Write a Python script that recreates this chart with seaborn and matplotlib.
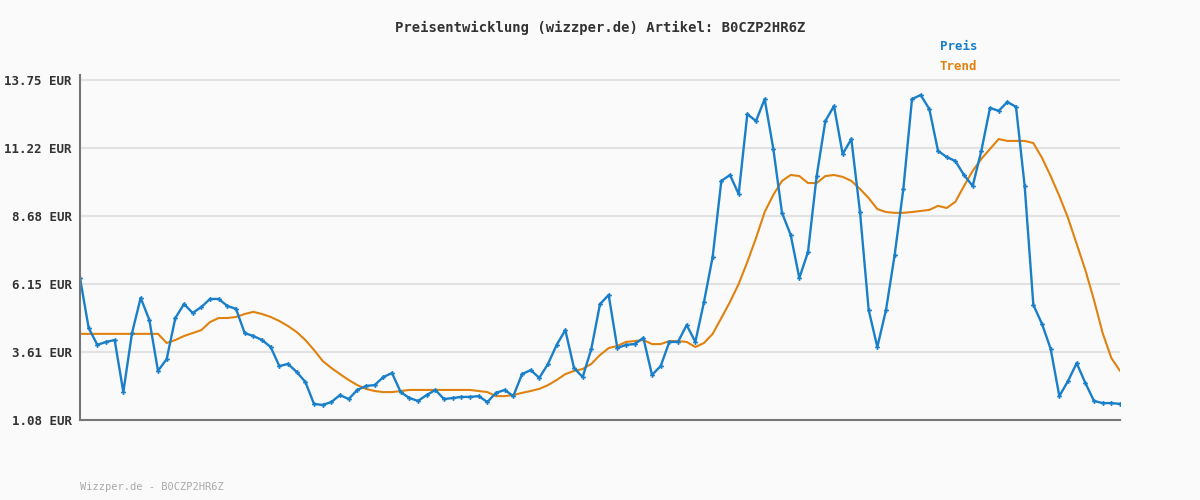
import numpy as np
import pandas as pd
import matplotlib
matplotlib.use("Agg")
import matplotlib.pyplot as plt
import seaborn as sns

preis = [6.37,4.51,3.88,3.99,4.06,2.12,4.32,5.63,4.81,2.91,3.35,4.88,5.40,5.07,5.29,5.59,5.59,5.33,5.22,4.32,
         4.21,4.06,3.80,3.09,3.17,2.87,2.50,1.68,1.64,1.75,2.01,1.86,2.20,2.35,2.38,2.68,2.83,2.12,1.90,1.79,
         2.01,2.20,1.86,1.90,1.94,1.94,1.97,1.75,2.09,2.20,1.97,2.79,2.94,2.65,3.17,3.88,4.43,3.02,2.68,3.73,
         5.40,5.74,3.76,3.88,3.91,4.14,2.76,3.09,3.99,3.99,4.62,3.99,5.48,7.16,9.99,10.21,9.50,12.48,12.22,13.04,
         11.18,8.80,7.98,6.37,7.34,10.17,12.22,12.78,10.99,11.55,8.83,5.18,3.80,5.18,7.23,9.69,13.04,13.19,12.67,11.11,
         10.88,10.73,10.21,9.80,11.11,12.71,12.60,12.93,12.75,9.80,5.37,4.66,3.73,1.97,2.53,3.20,2.46,1.79,1.71,1.71,1.68]
trend = [4.29]*10 + [3.95,4.06,4.21,4.32,4.43,4.73,4.88,4.88,4.92,5.03,5.11,5.03,4.92,4.77,4.58,4.36,4.06,3.69,3.28,3.02,
         2.79,2.57,2.38,2.24,2.16,2.12,2.12,2.16] + [2.20]*8 + [2.16,2.12,1.97,1.97,2.01,2.09,2.16,2.24,2.38,2.57,
         2.79,2.91,2.98,3.17,3.50,3.76,3.84,3.99,4.02,4.06,3.91,3.91,4.02,4.02,3.99,3.80,3.95,4.29,4.88,5.48,
         6.15,6.97,7.86,8.83,9.47,9.99,10.21,10.17,9.91,9.91,10.17,10.21,10.14,9.99,9.69,9.35,8.94,8.83,8.80,8.80,
         8.83,8.87,8.91,9.06,8.98,9.21,9.80,10.36,10.81,11.18,11.55,11.48,11.48,11.48,11.40,10.85,10.17,9.43,8.61,7.64,
         6.67,5.55,4.32,3.39,2.91]
yticks = [1.08, 3.61, 6.15, 8.68, 11.22, 13.75]
ytick_labels = ["1.08 EUR", "3.61 EUR", "6.15 EUR", "8.68 EUR", "11.22 EUR", "13.75 EUR"]

n = len(preis)
df_p = pd.DataFrame({"x": np.arange(n), "y": preis})
df_t = pd.DataFrame({"x": np.linspace(0, n - 1, len(trend)), "y": trend})

sns.set_theme(style="white")
plt.rcParams['font.family'] = ['DejaVu Sans Mono', 'DejaVu Sans']
fig = plt.figure(figsize=(12, 5), dpi=100, facecolor="#fafafa")
ax = fig.add_axes([80/1200, 80/500, 1040/1200, 345/500])
ax.set_facecolor("#fafafa")

blue = "#1a7fc9"
orange = "#e0820f"
sns.lineplot(data=df_t, x="x", y="y", ax=ax, color=orange, linewidth=1.5)
sns.lineplot(data=df_p, x="x", y="y", ax=ax, color=blue, linewidth=1.7, marker="P", markersize=3.5,
             markeredgewidth=0, markerfacecolor=blue)

ax.set_xlim(0, n - 1)
ax.set_ylim(1.08, 1.08 + (13.75 - 1.08) * 345 / 340)
ax.set_yticks(yticks)
ax.set_yticklabels(ytick_labels, fontsize=9, color="#333333", fontweight="bold")
ax.set_xticks([])
ax.set_xlabel("")
ax.set_ylabel("")
ax.grid(axis="y", color="#e2e2e2", linewidth=1.5)
ax.tick_params(axis="y", length=0, pad=6)
for s in ["top", "right"]:
    ax.spines[s].set_visible(False)
ax.spines["left"].set_color("#777777")
ax.spines["bottom"].set_color("#777777")
ax.spines["left"].set_linewidth(1.5)
ax.spines["bottom"].set_linewidth(1.5)

fig.text(0.5, 1 - 28/500, "Preisentwicklung (wizzper.de) Artikel: B0CZP2HR6Z", ha="center", va="center",
         fontsize=10, color="#333333", fontweight="bold")
fig.text(940/1200, 1 - 47/500, "Preis", ha="left", va="center", fontsize=9, color=blue, fontweight="bold")
fig.text(940/1200, 1 - 67/500, "Trend", ha="left", va="center", fontsize=9, color=orange, fontweight="bold")
fig.text(80/1200, 1 - 487/500, "Wizzper.de - B0CZP2HR6Z", ha="left", va="center", fontsize=7.5, color="#aaaaaa")

fig.savefig("out.png", dpi=100, facecolor=fig.get_facecolor())
